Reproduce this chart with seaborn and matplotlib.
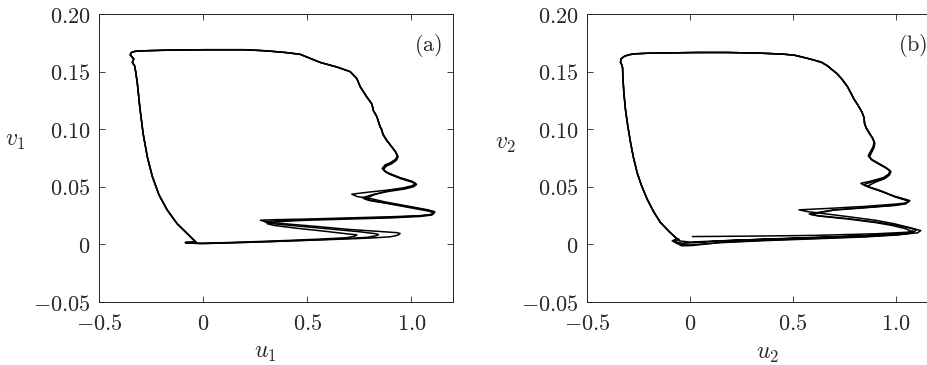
import pandas as pd
import seaborn as sns
import matplotlib.pyplot as plt

# ---- panel (a): trajectory, three cycles ----
left_a_u = [-0.035, -0.077, -0.125, -0.173, -0.212, -0.244, -0.268, -0.288, -0.304, -0.316, -0.324, -0.329, -0.340, -0.333, -0.350, -0.345, -0.330]
left_a_v = [0.002, 0.0095, 0.018, 0.030, 0.043, 0.059, 0.076, 0.096, 0.119, 0.140, 0.150, 0.155, 0.158, 0.161, 0.1645, 0.1665, 0.1675]
top_a_u = [-0.30, -0.20, 0.00, 0.20, 0.307, 0.40, 0.466, 0.562, 0.642, 0.706, 0.738, 0.754, 0.786, 0.810, 0.818, 0.834, 0.850]
top_a_v = [0.168, 0.1685, 0.169, 0.169, 0.168, 0.1665, 0.165, 0.158, 0.154, 0.150, 0.144, 0.137, 0.128, 0.122, 0.116, 0.111, 0.102]
zig_a_u = [
    [0.858, 0.862, 0.878, 0.900, 0.921, 0.933, 0.925, 0.900, 0.874, 0.860, 0.870, 0.889, 0.945, 1.000, 1.020, 1.005, 0.960, 0.880, 0.800, 0.714, 0.740, 0.800, 0.870, 0.990, 1.080, 1.113, 1.100, 1.050, 0.900, 0.700, 0.500, 0.350, 0.275, 0.300, 0.400, 0.550, 0.700, 0.850, 0.930, 0.946, 0.935, 0.898, 0.800, 0.626, 0.450, 0.307, 0.150, 0.000, -0.060, -0.085, -0.060, -0.035],
    [0.856, 0.866, 0.884, 0.905, 0.926, 0.936, 0.928, 0.905, 0.880, 0.866, 0.876, 0.895, 0.950, 1.005, 1.025, 1.010, 0.965, 0.890, 0.820, 0.765, 0.790, 0.860, 0.990, 1.080, 1.105, 1.095, 1.040, 0.900, 0.700, 0.500, 0.350, 0.298, 0.330, 0.450, 0.600, 0.750, 0.828, 0.842, 0.830, 0.790, 0.700, 0.550, 0.400, 0.250, 0.100, -0.020, -0.070, -0.085, -0.060, -0.035],
    [0.854, 0.864, 0.880, 0.902, 0.924, 0.934, 0.926, 0.902, 0.877, 0.863, 0.873, 0.892, 0.948, 1.003, 1.022, 1.008, 0.962, 0.885, 0.820, 0.775, 0.800, 0.870, 0.990, 1.080, 1.110, 1.098, 1.045, 0.900, 0.700, 0.500, 0.360, 0.307, 0.340, 0.450, 0.580, 0.690, 0.728, 0.738, 0.728, 0.690, 0.550, 0.400, 0.250, 0.100, -0.020, -0.070, -0.085, -0.060, -0.035],
]
zig_a_v = [
    [0.100, 0.096, 0.091, 0.086, 0.081, 0.077, 0.074, 0.071, 0.069, 0.066, 0.064, 0.062, 0.058, 0.055, 0.053, 0.051, 0.049, 0.047, 0.0455, 0.0436, 0.0415, 0.040, 0.037, 0.033, 0.030, 0.0283, 0.026, 0.025, 0.024, 0.023, 0.022, 0.0215, 0.021, 0.0197, 0.0178, 0.0155, 0.013, 0.0112, 0.0102, 0.0095, 0.008, 0.0066, 0.0055, 0.0043, 0.0032, 0.0023, 0.0015, 0.0007, 0.0013, 0.0017, 0.0019, 0.002],
    [0.100, 0.095, 0.090, 0.085, 0.080, 0.076, 0.073, 0.070, 0.068, 0.065, 0.063, 0.061, 0.057, 0.054, 0.052, 0.050, 0.048, 0.046, 0.0435, 0.0405, 0.039, 0.0365, 0.0325, 0.0295, 0.0285, 0.026, 0.0248, 0.0235, 0.0225, 0.0215, 0.0205, 0.0196, 0.018, 0.016, 0.0135, 0.011, 0.0093, 0.0085, 0.0075, 0.0062, 0.0052, 0.0040, 0.0030, 0.0020, 0.0012, 0.0008, 0.0012, 0.0016, 0.0019, 0.002],
    [0.101, 0.0955, 0.0905, 0.0855, 0.0805, 0.0765, 0.0735, 0.0705, 0.0685, 0.0655, 0.0635, 0.0615, 0.0575, 0.0545, 0.0525, 0.0505, 0.0485, 0.0465, 0.043, 0.0395, 0.038, 0.036, 0.032, 0.029, 0.0275, 0.0255, 0.0243, 0.023, 0.022, 0.021, 0.0198, 0.018, 0.0165, 0.014, 0.0115, 0.0092, 0.0085, 0.0082, 0.0072, 0.0058, 0.0045, 0.0034, 0.0024, 0.0015, 0.0009, 0.0011, 0.0015, 0.0018, 0.002],
]

# ---- panel (b) ----
start_b_u = [0.012, 0.300, 0.600, 0.900, 1.050, 1.085, 1.070, 1.000, 0.800, 0.500, 0.200, 0.000, -0.050]
start_b_v = [0.0068, 0.0072, 0.0078, 0.0092, 0.0105, 0.0115, 0.0098, 0.0085, 0.0070, 0.0052, 0.0035, 0.0020, 0.0030]
left_b_u = [-0.055, -0.070, -0.100, -0.143, -0.175, -0.207, -0.235, -0.256, -0.275, -0.288, -0.302, -0.313, -0.321, -0.326, -0.327, -0.331, -0.337, -0.335, -0.321, -0.300, -0.272]
left_b_v = [0.004, 0.006, 0.011, 0.019, 0.028, 0.039, 0.051, 0.062, 0.076, 0.088, 0.103, 0.117, 0.132, 0.146, 0.153, 0.156, 0.158, 0.161, 0.163, 0.1645, 0.1654]
top_b_u = [-0.20, 0.036, 0.180, 0.344, 0.450, 0.506, 0.560, 0.603, 0.640, 0.668, 0.695, 0.716, 0.740, 0.765, 0.780, 0.797, 0.812, 0.822, 0.835, 0.846, 0.848]
top_b_v = [0.166, 0.1666, 0.1666, 0.166, 0.1652, 0.1643, 0.162, 0.160, 0.158, 0.155, 0.151, 0.148, 0.143, 0.137, 0.132, 0.126, 0.122, 0.119, 0.115, 0.110, 0.105]
zig_b_u = [
    [0.855, 0.870, 0.885, 0.894, 0.890, 0.875, 0.866, 0.880, 0.910, 0.950, 0.972, 0.965, 0.940, 0.880, 0.830, 0.850, 0.920, 0.990, 1.050, 1.068, 1.050, 1.000, 0.850, 0.700, 0.530, 0.570, 0.750, 0.900, 0.990, 1.070, 1.121, 1.105, 1.050, 0.850, 0.600, 0.350, 0.150, 0.020, -0.040, -0.086, -0.070, -0.055],
    [0.857, 0.873, 0.888, 0.898, 0.894, 0.880, 0.872, 0.886, 0.915, 0.955, 0.976, 0.968, 0.945, 0.900, 0.862, 0.880, 0.940, 1.000, 1.045, 1.060, 1.045, 0.990, 0.850, 0.700, 0.579, 0.620, 0.760, 0.900, 0.990, 1.060, 1.100, 1.085, 1.030, 0.850, 0.600, 0.350, 0.150, 0.010, -0.040, -0.080, -0.070, -0.055],
    [0.856, 0.871, 0.886, 0.896, 0.892, 0.878, 0.869, 0.883, 0.912, 0.952, 0.974, 0.966, 0.942, 0.890, 0.845, 0.865, 0.930, 0.995, 1.048, 1.064, 1.048, 0.995, 0.850, 0.700, 0.585, 0.630, 0.770, 0.900, 0.980, 1.050, 1.080, 1.065, 1.010, 0.850, 0.600, 0.350, 0.150, 0.000, -0.040, -0.075, -0.065, -0.055],
]
zig_b_v = [
    [0.101, 0.097, 0.093, 0.089, 0.085, 0.080, 0.077, 0.074, 0.071, 0.067, 0.064, 0.061, 0.058, 0.055, 0.053, 0.051, 0.047, 0.042, 0.039, 0.038, 0.036, 0.035, 0.033, 0.0315, 0.030, 0.0285, 0.0245, 0.021, 0.018, 0.0145, 0.012, 0.010, 0.0092, 0.0075, 0.006, 0.0045, 0.003, 0.0015, 0.001, 0.003, 0.0045, 0.0045],
    [0.101, 0.096, 0.092, 0.088, 0.084, 0.079, 0.076, 0.073, 0.070, 0.066, 0.063, 0.060, 0.057, 0.054, 0.0505, 0.049, 0.0455, 0.041, 0.0388, 0.0378, 0.0355, 0.034, 0.032, 0.030, 0.0265, 0.025, 0.0225, 0.0195, 0.017, 0.0145, 0.0125, 0.0105, 0.0088, 0.0068, 0.0052, 0.0035, 0.0018, -0.0010, -0.0012, 0.0025, 0.004, 0.0045],
    [0.1015, 0.0965, 0.0925, 0.0885, 0.0845, 0.0795, 0.0765, 0.0735, 0.0705, 0.0665, 0.0635, 0.0605, 0.0575, 0.0545, 0.052, 0.050, 0.046, 0.0415, 0.0384, 0.0372, 0.0352, 0.0338, 0.0318, 0.0298, 0.026, 0.0245, 0.022, 0.019, 0.0165, 0.0135, 0.011, 0.0095, 0.0082, 0.0065, 0.0048, 0.0032, 0.0015, -0.0005, 0.0000, 0.002, 0.0035, 0.0045],
]

xticks = [-0.5, 0, 0.5, 1.0]
xticklabels = ['$-0.5$', '$0$', '$0.5$', '$1.0$']
yticks = [-0.05, 0, 0.05, 0.10, 0.15, 0.20]
yticklabels = ['$-0.05$', '$0$', '$0.05$', '$0.10$', '$0.15$', '$0.20$']


def build(left_u, left_v, top_u, top_v, zu, zv, head_u=None, head_v=None):
    rows = []
    for k in range(len(zu)):
        u = left_u + top_u + zu[k]
        v = left_v + top_v + zv[k]
        if k == 0 and head_u is not None:
            u = head_u + u
            v = head_v + v
        rows.append(pd.DataFrame({'u': u, 'v': v, 'cycle': k}))
    return pd.concat(rows, ignore_index=True)


df_a = build(left_a_u, left_a_v, top_a_u, top_a_v, zig_a_u, zig_a_v)
df_b = build(left_b_u, left_b_v, top_b_u, top_b_v, zig_b_u, zig_b_v, start_b_u, start_b_v)

sns.set_style('ticks')
plt.rcParams['mathtext.fontset'] = 'cm'
plt.rcParams['font.family'] = ['DejaVu Serif']

fig = plt.figure(figsize=(9.27, 3.65), dpi=100)
ax_a = fig.add_axes([0.1068, 0.1726, 0.3819, 0.789])
ax_b = fig.add_axes([0.6332, 0.1726, 0.3776, 0.789])

panels = [(ax_a, df_a, '1', '(a)', (0.469, -0.135), (-0.237, 0.5625)),
          (ax_b, df_b, '2', '(b)', (0.517, -0.138), (-0.234, 0.552))]

for ax, df, idx, tag, xl, yl in panels:
    sns.lineplot(data=df, x='u', y='v', units='cycle', estimator=None, sort=False,
                 color='black', linewidth=1.1, ax=ax, legend=False)
    ax.set_xlim(-0.5, 1.2)
    ax.set_ylim(-0.05, 0.2)
    ax.set_xticks(xticks)
    ax.set_xticklabels(xticklabels)
    ax.set_yticks(yticks)
    ax.set_yticklabels(yticklabels)
    ax.tick_params(direction='in', top=True, right=True, length=4, width=0.6,
                   labelsize=16, color='#222222')
    ax.tick_params(axis='x', pad=8)
    ax.tick_params(axis='y', pad=6)
    for s in ax.spines.values():
        s.set_visible(True)
        s.set_linewidth(0.7)
        s.set_color('#222222')
    ax.set_xlabel('$u_' + idx + '$', fontsize=17)
    ax.set_ylabel('$v_' + idx + '$', fontsize=17, rotation=0, va='center')
    ax.xaxis.set_label_coords(*xl)
    ax.yaxis.set_label_coords(*yl)
    ax.text(1.08, 0.173, '$(\\mathrm{' + tag[1] + '})$', fontsize=16, ha='center', va='center')

fig.savefig('out.png', dpi=100)
